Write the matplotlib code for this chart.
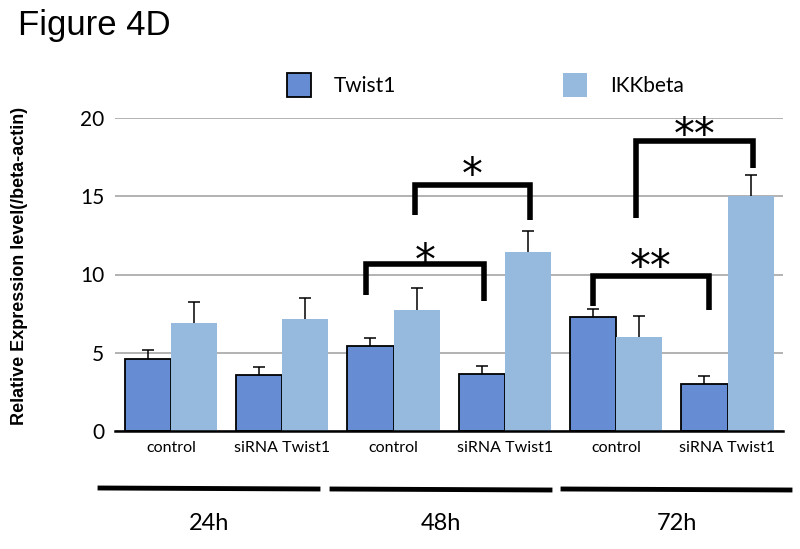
import numpy as np
import matplotlib
matplotlib.use('Agg')
import matplotlib.pyplot as plt
from matplotlib.patches import Patch
from matplotlib.lines import Line2D

# ============================================================================
# DATA
# ============================================================================
categories = ['control', 'siRNA Twist1', 'control', 'siRNA Twist1', 'control', 'siRNA Twist1']
twist1 = [4.6, 3.57, 5.4, 3.63, 7.29, 3.01]
twist1_err = [0.55, 0.55, 0.55, 0.52, 0.53, 0.52]
ikkbeta = [6.9, 7.18, 7.76, 11.41, 6.0, 15.02]
ikkbeta_err = [1.35, 1.35, 1.35, 1.35, 1.33, 1.33]
time_labels = ['24h', '48h', '72h']
yticks = [0, 5, 10, 15, 20]

# brackets: (x left, x right, y top, y end left, y end right, y label, label)
brackets = [
    (1.757, 2.81, 10.64, 8.72, 8.33, 11.4, '*'),
    (2.19, 3.23, 15.7, 13.8, 13.5, 16.9, '*'),
    (3.79, 4.835, 9.89, 7.96, 7.7, 11.0, '**'),
    (4.18, 5.225, 18.55, 13.59, 16.8, 19.4, '**'),
]

c_twist = '#668dd4'
c_ikk = '#96badd'

# ============================================================================
# FIGURE
# ============================================================================
fig = plt.figure(figsize=(8, 5.49), dpi=100)
ax = fig.add_axes([0.144, 0.215, 0.835, 0.570])

x = np.arange(len(categories))
w = 0.414
ax.bar(x - w / 2, twist1, w, color=c_twist, edgecolor='black', linewidth=1.3, zorder=3)
ax.bar(x + w / 2, ikkbeta, w, color=c_ikk, edgecolor='none', zorder=3)
# symmetric error bars drawn behind the bars -> only the upper half shows
ax.errorbar(x - w / 2, twist1, yerr=twist1_err, fmt='none',
            ecolor='black', elinewidth=1.1, capsize=4, capthick=1.1, zorder=2)
ax.errorbar(x + w / 2, ikkbeta, yerr=ikkbeta_err, fmt='none',
            ecolor='black', elinewidth=1.1, capsize=4, capthick=1.1, zorder=2)

for xl, xr, yt, yl, yr, ylab, lab in brackets:
    ax.plot([xl, xl, xr, xr], [yl, yt, yt, yr], color='black', lw=4,
            solid_joinstyle='miter', solid_capstyle='butt', zorder=5, clip_on=False)
    # glyph sits a bit above its box centre, small shift down
    ax.text((xl + xr) / 2, ylab - 0.58, lab, ha='center', va='center', fontsize=30,
            family='DejaVu Sans', zorder=5, clip_on=False)

ax.set_xlim(-0.5, 5.5)
ax.set_ylim(0, 20)
ax.set_yticks(yticks)
ax.set_yticklabels([str(t) for t in yticks], family='Lato', fontsize=15)
ax.set_xticks(x)
ax.set_xticklabels(categories, family='Lato', fontsize=11.5)
ax.tick_params(axis='both', length=0)
ax.tick_params(axis='y', pad=8)
ax.tick_params(axis='x', pad=7)
ax.yaxis.grid(True, color='#a6a6a6', lw=1.2, zorder=0)
ax.set_axisbelow(True)
for s in ['left', 'right', 'top']:
    ax.spines[s].set_visible(False)
ax.spines['bottom'].set_linewidth(1.8)
ax.spines['bottom'].set_zorder(6)

fig.text(0.025, 0.515, 'Relative Expression level(/beta-actin)', rotation=90,
         ha='center', va='center', fontsize=13, fontweight='bold', family='Liberation Sans')
fig.text(0.022, 0.953, 'Figure 4D', fontsize=25, family='Liberation Sans', ha='left', va='center')

handles = [Patch(facecolor=c_twist, edgecolor='black', linewidth=1.3, label='Twist1'),
           Patch(facecolor=c_ikk, edgecolor='none', label='IKKbeta')]
fig.legend(handles=handles, ncol=2, loc='center', bbox_to_anchor=(0.607, 0.845),
           frameon=False, prop={'family': 'Lato', 'size': 15}, handlelength=1.15,
           handleheight=1.45, handletextpad=1.1, columnspacing=8)

# time-point lines below the axis
seg = [(100, 318, 488, 489), (332, 550, 489, 490), (563, 790, 489, 490)]
for (x0, x1, y0, y1), lab in zip(seg, time_labels):
    fig.add_artist(Line2D([x0 / 800, x1 / 800], [1 - y0 / 549, 1 - y1 / 549],
                          color='black', lw=3.5, transform=fig.transFigure))
    fig.text((x0 + x1) / 2 / 800, 1 - 523 / 549, lab, ha='center', va='center',
             fontsize=17, family='Lato')

plt.savefig('out.png', dpi=100)
